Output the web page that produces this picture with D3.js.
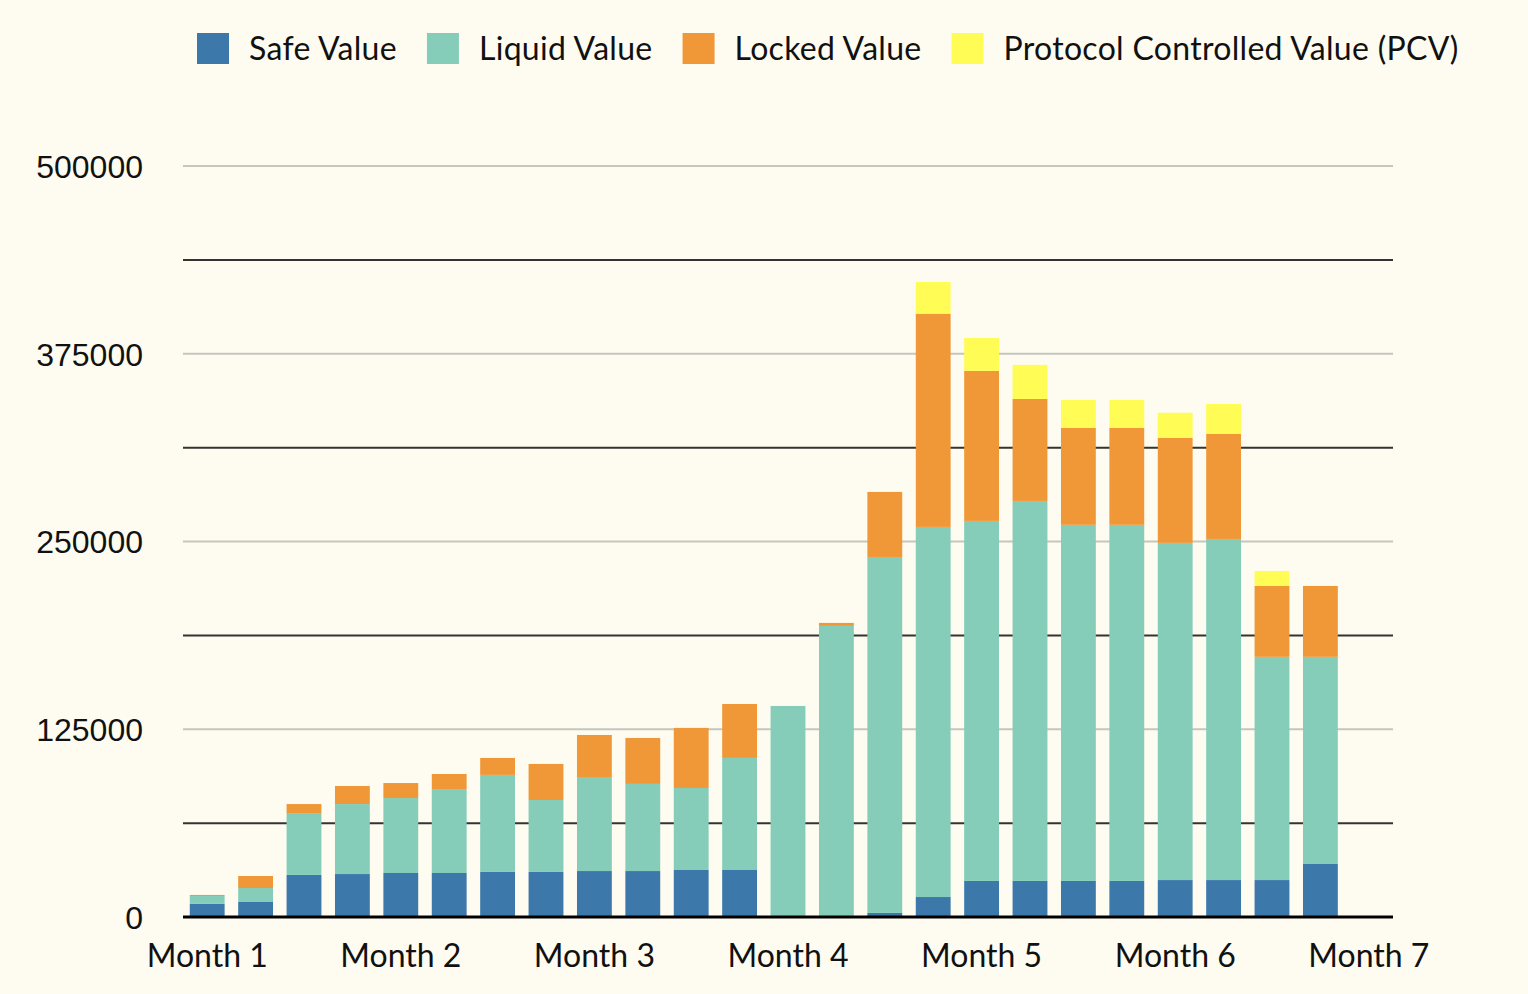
<!DOCTYPE html>
<html><head><meta charset="utf-8">
<script src="https://cdn.jsdelivr.net/npm/d3@7"></script>
<style>
html,body{margin:0;padding:0;background:#fefcf0;}
svg{display:block;}
</style></head>
<body>
<svg id="chart" width="1528" height="994"></svg>
<script>
const categories = d3.range(25).map(i => "Period " + (i + 1));
const seriesNames = ["Safe Value", "Liquid Value", "Locked Value", "Protocol Controlled Value (PCV)"];
const seriesColors = ["#3d78ab", "#86cdb9", "#f09838", "#fffc55"];
const safeValue   = [8700, 10000, 28000, 28600, 29300, 29300, 30000, 30000, 30600, 30600, 31300, 31300, 0, 0, 2700, 13300, 24000, 24000, 24000, 24000, 24600, 24600, 24600, 35300, 0];
const liquidValue = [5300, 9300, 41200, 46600, 49900, 55900, 64600, 47900, 62600, 58000, 54600, 74600, 140500, 193800, 237000, 246400, 239700, 253000, 237100, 237100, 224500, 227100, 148600, 137900, 0];
const lockedValue = [700, 8000, 6000, 12000, 10000, 10000, 11300, 24000, 28000, 30600, 40000, 35900, 0, 2000, 43300, 142000, 99900, 67900, 64600, 64600, 69900, 69900, 47200, 47200, 0];
const pcvValue    = [0, 0, 0, 0, 0, 0, 0, 0, 0, 0, 0, 0, 0, 0, 0, 21100, 21900, 22700, 18600, 18600, 16700, 20000, 10000, 0, 0];
const monthLabels = ["Month 1", "Month 2", "Month 3", "Month 4", "Month 5", "Month 6", "Month 7"];
const yTickValues = [0, 125000, 250000, 375000, 500000];

const svg = d3.select("#chart");
const W = 1528, H = 994;
svg.append("rect").attr("width", W).attr("height", H).attr("fill", "#fefcf0");

const plotLeft = 183, plotRight = 1393, plotTop = 166, plotBottom = 917;
const x = d3.scaleBand().domain(d3.range(categories.length)).range([plotLeft, plotRight]).paddingInner(0.28).paddingOuter(0.14);
const y = d3.scaleLinear().domain([0, 500000]).range([plotBottom, plotTop]);

// gridlines
const gridVals = d3.range(62500, 500001, 62500);
svg.append("g").selectAll("line").data(gridVals).join("line")
  .attr("x1", plotLeft).attr("x2", plotRight)
  .attr("y1", d => y(d)).attr("y2", d => y(d))
  .attr("stroke", (d, i) => (i % 2 === 1) ? "#c6c5c0" : "#333333")
  .attr("stroke-width", 2);

// stacked bars
const rows = categories.map((c, i) => ({i, safe: safeValue[i], liquid: liquidValue[i], locked: lockedValue[i], pcv: pcvValue[i]}));
const keys = ["safe", "liquid", "locked", "pcv"];
const stacked = d3.stack().keys(keys)(rows);
svg.append("g").selectAll("g").data(stacked).join("g")
  .attr("fill", (d, k) => seriesColors[k])
  .selectAll("rect").data(d => d.filter(p => p[1] - p[0] > 0)).join("rect")
  .attr("x", p => x(p.data.i))
  .attr("width", x.bandwidth())
  .attr("y", p => y(p[1]))
  .attr("height", p => y(p[0]) - y(p[1]));

// baseline
svg.append("line").attr("x1", plotLeft).attr("x2", plotRight).attr("y1", y(0)).attr("y2", y(0))
  .attr("stroke", "#000").attr("stroke-width", 3);

// y axis labels
const yAxis = d3.axisLeft(y).tickValues(yTickValues).tickFormat(d3.format("d")).tickSize(0).tickPadding(0);
const yg = svg.append("g").attr("transform", `translate(143,0)`).call(yAxis);
yg.select(".domain").remove();
yg.selectAll("text").attr("font-family", "'Liberation Sans', Arial, sans-serif").attr("font-size", 32).attr("fill", "#111").attr("dy", "0.355em");

// x axis labels (one per month, every 4th slot)
const monthIdx = monthLabels.map((m, k) => k * 4);
const xAxis = d3.axisBottom(x).tickValues(monthIdx).tickFormat(i => monthLabels[i / 4]).tickSize(0).tickPadding(0);
const xg = svg.append("g").attr("transform", `translate(0,967)`).call(xAxis);
xg.select(".domain").remove();
xg.selectAll("text").attr("font-family", "Lato, 'Noto Sans', sans-serif").attr("font-size", 32).attr("fill", "#111").attr("dy", 0).attr("y", 0);

// legend
const legend = svg.append("g");
let lx = 197;
seriesNames.forEach((name, k) => {
  legend.append("rect").attr("x", lx).attr("y", 33).attr("width", 32).attr("height", 31).attr("fill", seriesColors[k]);
  const t = legend.append("text").attr("x", lx + 52).attr("y", 60)
    .attr("font-family", "Lato, 'Noto Sans', sans-serif").attr("font-size", 32)
    .attr("letter-spacing", 0.3).attr("fill", "#111").text(name);
  lx = lx + 52 + t.node().getComputedTextLength() + 30;
});
</script>
</body></html>
